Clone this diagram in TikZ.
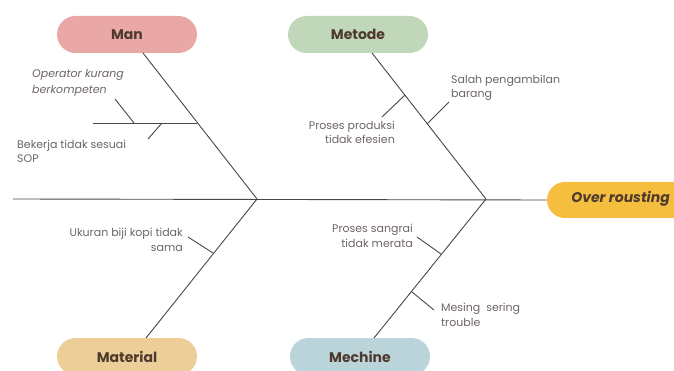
\documentclass[tikz,border=0pt]{standalone}
\usepackage{fontspec}
\setmainfont{Poppins}
\usetikzlibrary{shapes.misc}
\definecolor{manfill}{RGB}{233,168,165}
\definecolor{metfill}{RGB}{192,215,186}
\definecolor{matfill}{RGB}{238,206,152}
\definecolor{mecfill}{RGB}{186,212,218}
\definecolor{efffill}{RGB}{246,190,62}
\definecolor{titletext}{RGB}{78,58,46}
\definecolor{bodytext}{RGB}{110,100,100}
\definecolor{bone}{RGB}{75,70,68}
\tikzset{
  catbox/.style={rounded rectangle, minimum width=140pt, minimum height=37pt,
    inner sep=0pt, text=titletext, font=\fontsize{14}{16}\selectfont\bfseries},
  bonestyle/.style={draw=bone, line width=0.9pt},
  lbl/.style={inner sep=0pt, text=bodytext, font=\fontsize{11}{14.5}\selectfont},
}
\begin{document}
\begin{tikzpicture}[x=1pt,y=-1pt]
\useasboundingbox (0,0) rectangle (674,371);
\clip (0,0) rectangle (674,371);
% category boxes
\node[catbox, fill=manfill] (man) at (127,34.5) {Man};
\node[catbox, fill=metfill] (metode) at (358,34.5) {Metode};
\node[catbox, fill=matfill] (material) at (127,356.5) {Material};
\node[catbox, fill=mecfill] (mechine) at (360,356.5) {Mechine};
\node[rounded rectangle, minimum width=160pt, minimum height=36pt, inner sep=0pt,
  fill=efffill] (effect) at (627,200) {};
\node[inner sep=0pt, text=titletext, font=\fontsize{14}{16}\selectfont\bfseries\itshape, anchor=east] (efftext) at (670,199) {Over rousting};
% coordinates
\coordinate (s0) at (13,199);
\coordinate (j1) at (257,199);
\coordinate (j2) at (486,199);
\coordinate (manb) at (143,53);
\coordinate (metb) at (372,53);
\coordinate (matb) at (146,338);
\coordinate (mecb) at (374,338);
% spine
\draw[bonestyle] (s0) -- (effect.west);
% main bones
\draw[bonestyle] (manb) -- (j1);
\draw[bonestyle] (metb) -- (j2);
\draw[bonestyle] (matb) -- (j1);
\draw[bonestyle] (mecb) -- (j2);
% Man sub-branches
\coordinate (m1a) at (93,123);
\coordinate (m1b) at (197,123);
\draw[bonestyle] (m1a) -- (m1b);
\coordinate (m2a) at (115,99);
\coordinate (m2b) at (134,123);
\draw[bonestyle] (m2a) -- (m2b);
\coordinate (m3a) at (148,139);
\coordinate (m3b) at (162,123);
\draw[bonestyle] (m3a) -- (m3b);
% Metode sub-branches
\coordinate (t1a) at (382,117);
\coordinate (t1b) at (405,95);
\draw[bonestyle] (t1a) -- (t1b);
\coordinate (t2a) at (449,102);
\coordinate (t2b) at (427,124);
\draw[bonestyle] (t2a) -- (t2b);
% Material sub-branch
\coordinate (a1a) at (188,237);
\coordinate (a1b) at (213,253);
\draw[bonestyle] (a1a) -- (a1b);
% Mechine sub-branches
\coordinate (c1a) at (417,237);
\coordinate (c1b) at (441,254);
\draw[bonestyle] (c1a) -- (c1b);
\coordinate (c2a) at (412,292);
\coordinate (c2b) at (434,310);
\draw[bonestyle] (c2a) -- (c2b);
% labels
\node[lbl, anchor=west, align=left, font=\fontsize{11}{16}\selectfont\itshape] (l1) at (32,83) {Operator kurang\\berkompeten};
\node[lbl, anchor=west, align=left] (l2) at (17,151.5) {Bekerja tidak sesuai\\SOP};
\node[lbl, anchor=west, align=left] (l3) at (451,88) {Salah pengambilan\\barang};
\node[lbl, anchor=east, align=right] (l4) at (395,132.5) {Proses produksi\\tidak efesien};
\node[lbl, anchor=east, align=right] (l5) at (183,240) {Ukuran biji kopi tidak\\sama};
\node[lbl, anchor=east, align=right] (l6) at (413,236) {Proses sangrai\\tidak merata};
\node[lbl, anchor=west, align=left] (l7) at (441,315) {Mesing\ \ sering\\trouble};
\end{tikzpicture}
\end{document}
